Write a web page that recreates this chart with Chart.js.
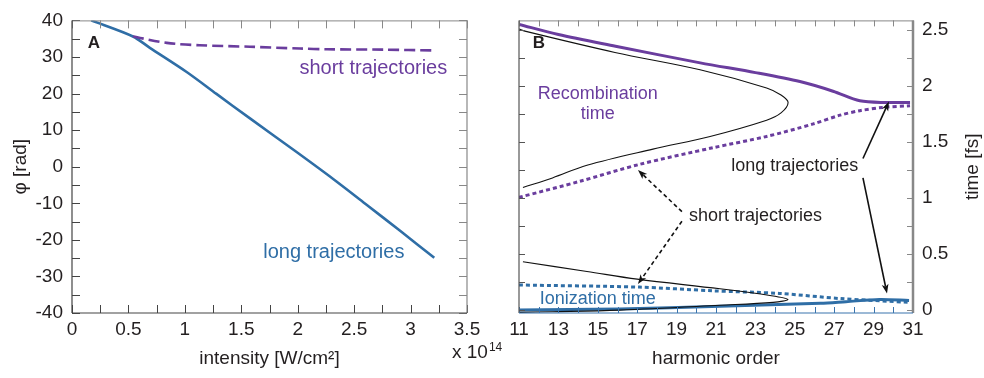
<!DOCTYPE html>
<html>
<head>
<meta charset="utf-8">
<script src="https://cdn.jsdelivr.net/npm/chart.js@4.4.1/dist/chart.umd.min.js"></script>
<style>
html, body { margin: 0; padding: 0; background: #fff; }
#wrap { position: relative; width: 984px; height: 378px; }
canvas { position: absolute; left: 0; top: 0; }
</style>
</head>
<body>
<div id="wrap">
    <canvas id="phaseChart" width="984" height="378"></canvas>
    <canvas id="timeChart" width="984" height="378"></canvas>
</div>
<script>
// panel A : phase vs intensity (x 10^14 W/cm2)
const longIntensity = [0.17, 0.54, 0.69, 1.016, 1.28, 1.577, 1.99, 2.32, 2.61, 2.91, 3.21];
const longPhase = [40, 35.6, 32.5, 25.9, 19.9, 13.2, 4.0, -3.5, -10.4, -17.6, -24.9];
const shortIntensity = [0.54, 0.84, 1.13, 1.577, 2.02, 2.26, 2.76, 3.2];
const shortPhase = [35.6, 33.85, 33.2, 32.8, 32.3, 32.1, 32.0, 31.8];

// panel B : times vs harmonic order
const harmonicTicks = [11, 13, 15, 17, 19, 21, 23, 25, 27, 29, 31];
const timeTicks = [0, 0.5, 1, 1.5, 2, 2.5];

const recLongOrder = [11, 13, 15.9, 20.2, 23, 25.26, 26.94, 28.3, 29.66, 30.85];
const recLongTime = [2.55, 2.46, 2.356, 2.207, 2.12, 2.04, 1.954, 1.868, 1.853, 1.853];
const recShortOrder = [11, 14.1, 17.1, 20.86, 23.57, 25.9, 27.3, 28.3, 29.5, 30.85];
const recShortTime = [1.006, 1.15, 1.30, 1.45, 1.55, 1.66, 1.74, 1.78, 1.81, 1.824];
const ionShortOrder = [11, 17.1, 20.86, 24.2, 27.3, 30.8];
const ionShortTime = [0.224, 0.205, 0.172, 0.149, 0.103, 0.069];
const ionLongOrder = [11, 16.1, 21.2, 26.3, 27.6, 29.3, 30.8];
const ionLongTime = [0.0, 0.01, 0.035, 0.06, 0.075, 0.095, 0.086];

// classical curves (thin black)
const classicRecOrder = [11, 11.3, 15.87, 20.19, 23.57, 24.3, 24.66, 24.3, 23.57, 20.7, 17.8, 14.45, 12.7, 11.2];
const classicRecTime = [2.51, 2.49, 2.30, 2.145, 1.983, 1.92, 1.853, 1.76, 1.695, 1.55, 1.437, 1.293, 1.18, 1.095];
const classicIonOrder = [11.2, 14.45, 17.0, 21.2, 23.74, 24.65, 23.9, 21.2, 16.1, 12.7, 11];
const classicIonTime = [0.431, 0.345, 0.276, 0.19, 0.13, 0.095, 0.069, 0.043, 0.0, -0.015, -0.02];

const purple = "#6a3d9e";
const blue = "#2f6ea6";
const textColor = "#231f20";
const fontFamily = "'Liberation Sans', Arial, sans-serif";

function pairs(xs, ys){
    return xs.map((x, i) => ({ x: x, y: ys[i] }));
}

// frame + inward ticks on all four sides
const framePlugin = {
    id: "frame",
    afterDraw(chart, args, opts){
        const ctx = chart.ctx;
        const a = chart.chartArea;
        const xs = chart.scales.x;
        const ys = chart.scales.y;
        ctx.save();

        function side(color, width, x1, y1, x2, y2){
            ctx.strokeStyle = color;
            ctx.lineWidth = width;
            ctx.beginPath();
            ctx.moveTo(x1, y1);
            ctx.lineTo(x2, y2);
            ctx.stroke();
        }

        const len = opts.len;
        // x ticks
        for (let i = Math.ceil(xs.min / opts.xStep - 1e-9); i * opts.xStep <= xs.max + 1e-9; i++) {
            const px = Math.round(xs.getPixelForValue(i * opts.xStep)) + 0.5;
            side(opts.bottom, 1, px, a.bottom, px, a.bottom - len);
            side(opts.top, 1, px, a.top, px, a.top + len);
        }
        // y ticks
        for (let i = Math.ceil(ys.min / opts.yStep - 1e-9); i * opts.yStep <= ys.max + 1e-9; i++) {
            const py = Math.round(ys.getPixelForValue(i * opts.yStep)) + 0.5;
            side(opts.left, 1, a.left, py, a.left + len, py);
            side(opts.right, 1, a.right, py, a.right - len, py);
        }

        side(opts.top, 1, a.left, a.top + 0.5, a.right, a.top + 0.5);
        side(opts.right, opts.rightWidth, a.right, a.top, a.right, a.bottom);
        side(opts.left, 1.2, a.left, a.top, a.left, a.bottom);
        side(opts.bottom, 1.2, a.left, a.bottom, a.right, a.bottom);
        ctx.restore();
    }
};

// text and arrows placed in data coordinates
const notesPlugin = {
    id: "notes",
    afterDatasetsDraw(chart, args, opts){
        const ctx = chart.ctx;
        const xs = chart.scales.x;
        const ys = chart.scales.y;
        ctx.save();

        (opts.arrows || []).forEach(ar => {
            const x1 = xs.getPixelForValue(ar.from[0]);
            const y1 = ys.getPixelForValue(ar.from[1]);
            const x2 = xs.getPixelForValue(ar.to[0]);
            const y2 = ys.getPixelForValue(ar.to[1]);
            const ang = Math.atan2(y2 - y1, x2 - x1);
            const head = 10;
            ctx.strokeStyle = "#111";
            ctx.fillStyle = "#111";
            ctx.lineWidth = 1.6;
            ctx.setLineDash(ar.dashed ? [4, 3] : []);
            ctx.beginPath();
            ctx.moveTo(x1, y1);
            ctx.lineTo(x2 - Math.cos(ang) * head * 0.7, y2 - Math.sin(ang) * head * 0.7);
            ctx.stroke();
            ctx.setLineDash([]);
            ctx.beginPath();
            ctx.moveTo(x2, y2);
            ctx.lineTo(x2 - head * Math.cos(ang - 0.35), y2 - head * Math.sin(ang - 0.35));
            ctx.lineTo(x2 - head * 0.7 * Math.cos(ang), y2 - head * 0.7 * Math.sin(ang));
            ctx.lineTo(x2 - head * Math.cos(ang + 0.35), y2 - head * Math.sin(ang + 0.35));
            ctx.closePath();
            ctx.fill();
        });

        (opts.labels || []).forEach(lb => {
            ctx.font = (lb.bold ? "bold " : "") + lb.size + "px " + fontFamily;
            ctx.fillStyle = lb.color;
            ctx.textAlign = lb.align || "center";
            ctx.textBaseline = "middle";
            ctx.fillText(lb.text, xs.getPixelForValue(lb.at[0]), ys.getPixelForValue(lb.at[1]));
        });

        ctx.restore();
    }
};

// "x 10^14" for panel A
const exponentPlugin = {
    id: "exponent",
    afterDraw(chart){
        const ctx = chart.ctx;
        const a = chart.chartArea;
        ctx.save();
        ctx.fillStyle = textColor;
        ctx.textBaseline = "alphabetic";
        ctx.textAlign = "left";
        ctx.font = "19px " + fontFamily;
        ctx.fillText("x 10", a.right - 15, 358);
        const w = ctx.measureText("x 10").width;
        ctx.font = "12px " + fontFamily;
        ctx.fillText("14", a.right - 15 + w + 1, 351);
        ctx.restore();
    }
};

// right-hand axis title of panel B, read bottom to top
const rightTitlePlugin = {
    id: "rightTitle",
    afterDraw(chart){
        const ctx = chart.ctx;
        const a = chart.chartArea;
        ctx.save();
        ctx.translate(973, (a.top + a.bottom) / 2);
        ctx.rotate(-Math.PI / 2);
        ctx.fillStyle = textColor;
        ctx.font = "19px " + fontFamily;
        ctx.textAlign = "center";
        ctx.textBaseline = "middle";
        ctx.fillText("time [fs]", 0, 0);
        ctx.restore();
    }
};

Chart.defaults.font.family = fontFamily;
Chart.defaults.color = textColor;

new Chart(document.getElementById("phaseChart"), {
    type: "scatter",
    data: {
        datasets: [
            {
                data: pairs(shortIntensity, shortPhase),
                showLine: true,
                borderColor: purple,
                borderWidth: 2.6,
                borderDash: [11, 5],
                pointRadius: 0,
                tension: 0.3
            },
            {
                data: pairs(longIntensity, longPhase),
                showLine: true,
                borderColor: blue,
                borderWidth: 2.6,
                pointRadius: 0,
                tension: 0.3
            }
        ]
    },
    options: {
        responsive: false,
        animation: false,
        layout: { padding: { top: 10, right: 984 - 467, left: 0, bottom: 0 } },
        scales: {
            x: {
                type: "linear",
                min: 0,
                max: 3.5,
                ticks: { stepSize: 0.5, padding: 5, font: { size: 19 }, maxRotation: 0, callback: v => String(v) },
                grid: { display: false, drawTicks: false },
                border: { display: false },
                title: { display: true, text: "intensity [W/cm²]", font: { size: 19 }, padding: { top: 0, bottom: 8 } },
                afterFit(scale){ scale.height = 65; }
            },
            y: {
                min: -40,
                max: 40,
                ticks: { stepSize: 10, padding: 9, font: { size: 19 } },
                grid: { display: false, drawTicks: false },
                border: { display: false },
                title: { display: true, text: "φ [rad]", font: { size: 19 }, padding: { top: 9, bottom: 0 } },
                afterFit(scale){ scale.width = 72; }
            }
        },
        plugins: {
            legend: { display: false },
            tooltip: { enabled: false },
            frame: { len: 8, xStep: 0.25, yStep: 5, left: "#444", bottom: "#444", top: "#888", right: "#888", rightWidth: 1.2 },
            notes: {
                labels: [
                    { text: "A", at: [0.14, 33.7], color: textColor, size: 17, bold: true, align: "left" },
                    { text: "short trajectories", at: [2.67, 26.8], color: purple, size: 20 },
                    { text: "long trajectories", at: [2.32, -23.4], color: blue, size: 20 }
                ]
            }
        }
    },
    plugins: [framePlugin, notesPlugin, exponentPlugin]
});

new Chart(document.getElementById("timeChart"), {
    type: "scatter",
    data: {
        datasets: [
            {
                data: pairs(classicRecOrder, classicRecTime),
                showLine: true, borderColor: "#111", borderWidth: 1.1, pointRadius: 0, tension: 0.35
            },
            {
                data: pairs(classicIonOrder, classicIonTime),
                showLine: true, borderColor: "#111", borderWidth: 1.1, pointRadius: 0, tension: 0.35
            },
            {
                data: pairs(recShortOrder, recShortTime),
                showLine: true, borderColor: purple, borderWidth: 3, borderDash: [4, 3], pointRadius: 0, tension: 0.3
            },
            {
                data: pairs(recLongOrder, recLongTime),
                showLine: true, borderColor: purple, borderWidth: 3, pointRadius: 0, tension: 0.3
            },
            {
                data: pairs(ionShortOrder, ionShortTime),
                showLine: true, borderColor: blue, borderWidth: 3, borderDash: [4, 3], pointRadius: 0, tension: 0.3
            },
            {
                data: pairs(ionLongOrder, ionLongTime),
                showLine: true, borderColor: blue, borderWidth: 3, pointRadius: 0, tension: 0.3
            }
        ]
    },
    options: {
        responsive: false,
        animation: false,
        layout: { padding: { top: 10, right: 0, left: 519, bottom: 0 } },
        scales: {
            x: {
                type: "linear",
                min: 11,
                max: 31,
                afterBuildTicks(scale){ scale.ticks = harmonicTicks.map(v => ({ value: v })); },
                ticks: { padding: 5, font: { size: 19 }, maxRotation: 0, autoSkip: false },
                grid: { display: false, drawTicks: false },
                border: { display: false },
                title: { display: true, text: "harmonic order", font: { size: 19 }, padding: { top: 0, bottom: 8 } },
                afterFit(scale){ scale.height = 65; }
            },
            y: {
                position: "right",
                min: -0.026,
                max: 2.586,
                afterBuildTicks(scale){ scale.ticks = timeTicks.map(v => ({ value: v })); },
                ticks: { padding: 9, font: { size: 19 }, callback: v => String(v) },
                grid: { display: false, drawTicks: false },
                border: { display: false },
                afterFit(scale){ scale.width = 984 - 913; }
            }
        },
        plugins: {
            legend: { display: false },
            tooltip: { enabled: false },
            frame: { len: 6, xStep: 1, yStep: 0.25, left: "#555", bottom: "#3a74ad", top: "#888", right: "#888", rightWidth: 2.5 },
            notes: {
                arrows: [
                    { from: [28.46, 1.353], to: [29.78, 1.862], dashed: false },
                    { from: [28.46, 1.181], to: [29.68, 0.147], dashed: false },
                    { from: [19.27, 0.879], to: [17.04, 1.25], dashed: true },
                    { from: [19.27, 0.793], to: [17.04, 0.233], dashed: true }
                ],
                labels: [
                    { text: "B", at: [11.7, 2.38], color: textColor, size: 17, bold: true, align: "left" },
                    { text: "Recombination", at: [15.0, 1.93], color: purple, size: 18 },
                    { text: "time", at: [15.0, 1.75], color: purple, size: 18 },
                    { text: "Ionization time", at: [15.0, 0.103], color: blue, size: 18 },
                    { text: "long trajectories", at: [25.0, 1.284], color: textColor, size: 18 },
                    { text: "short trajectories", at: [23.0, 0.836], color: textColor, size: 18 }
                ]
            }
        }
    },
    plugins: [framePlugin, notesPlugin, rightTitlePlugin]
});
</script>
</body>
</html>
